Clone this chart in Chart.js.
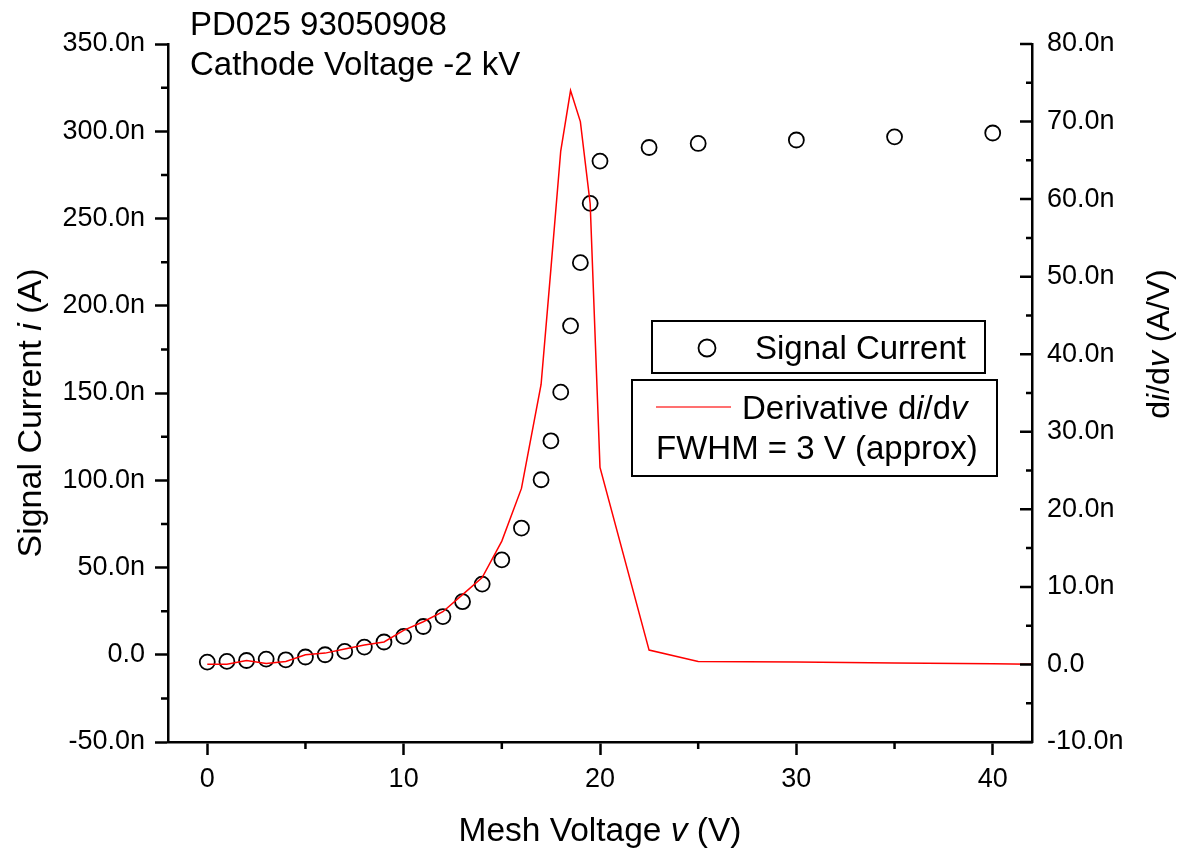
<!DOCTYPE html>
<html>
<head>
<meta charset="utf-8">
<script src="https://cdn.jsdelivr.net/npm/chart.js@4.4.1/dist/chart.umd.min.js"></script>
<style>
  html, body { margin: 0; padding: 0; background: #fff; }
  #wrap { width: 1181px; height: 851px; position: relative; }
</style>
</head>
<body>
<div id="wrap"><canvas id="chart"></canvas></div>
<script>
// mesh voltage (V) of each measurement
var voltage = [0, 1, 2, 3, 4, 5, 6, 7, 8, 9, 10, 11, 12, 13, 14, 15, 16, 17, 17.5, 18, 18.5, 19, 19.5, 20, 22.5, 25, 30, 35, 40];
// signal current i (nA)
var current = [-4.2, -3.8, -3.3, -2.5, -2.9, -1.3, 0, 1.9, 4.4, 7.3, 10.5, 16.2, 21.9, 30.4, 40.5, 54.4, 72.6, 100.3, 122.6, 150.5, 188.5, 224.7, 258.7, 282.9, 290.7, 293, 295, 296.8, 299];
// derivative di/dv (nA/V), runs on past the right edge
var derivVoltage = [0, 1, 2, 3, 4, 5, 6, 7, 8, 9, 10, 11, 12, 13, 14, 15, 16, 17, 17.5, 18, 18.5, 19, 19.5, 20, 22.5, 25, 30, 35, 40, 45];
var derivative = [0.04, 0.04, 0.5, 0.13, 0.39, 1.25, 1.46, 2.0, 2.5, 2.9, 4.4, 5.5, 6.8, 9.0, 11.2, 15.9, 22.7, 36.1, 51, 66.2, 74.0, 70.0, 59.4, 25.4, 1.85, 0.39, 0.3, 0.2, 0.1, -0.05];

var titleLines = ['PD025 93050908', 'Cathode Voltage -2 kV'];
var FONT = "'Liberation Sans', Arial, sans-serif";

function nanoLabel(v) {
    return v === 0 ? '0.0' : v.toFixed(1) + 'n';
}

// draws text made of plain / italic pieces
function richText(ctx, parts, x, y, size, align) {
    var fonts = parts.map(function (p) { return (p[1] ? 'italic ' : '') + size + 'px ' + FONT; });
    var widths = [], total = 0;
    parts.forEach(function (p, i) {
        ctx.font = fonts[i];
        var w = ctx.measureText(p[0]).width;
        widths.push(w); total += w;
    });
    var cx = align === 'center' ? x - total / 2 : x;
    ctx.textAlign = 'left';
    parts.forEach(function (p, i) {
        ctx.font = fonts[i];
        ctx.fillText(p[0], cx, y);
        cx += widths[i];
    });
}

var extras = {
    id: 'extras',
    afterDraw: function (chart) {
        var ctx = chart.ctx, a = chart.chartArea, s = chart.scales;
        ctx.save();
        ctx.strokeStyle = '#000';
        ctx.fillStyle = '#000';
        ctx.lineWidth = 2.5;

        // minor ticks and inward right ticks
        ctx.beginPath();
        var xt = s.x.ticks;
        for (var i = 0; i < xt.length - 1; i++) {
            var px = s.x.getPixelForValue((xt[i].value + xt[i + 1].value) / 2);
            ctx.moveTo(px, a.bottom); ctx.lineTo(px, a.bottom + 7);
        }
        var yt = s.y.ticks;
        for (i = 0; i < yt.length - 1; i++) {
            var py = s.y.getPixelForValue((yt[i].value + yt[i + 1].value) / 2);
            ctx.moveTo(a.left, py); ctx.lineTo(a.left - 7, py);
        }
        var rt = s.y2.ticks;
        for (i = 0; i < rt.length; i++) {
            py = s.y2.getPixelForValue(rt[i].value);
            ctx.moveTo(a.right, py); ctx.lineTo(a.right - 12, py);
            if (i < rt.length - 1) {
                py = s.y2.getPixelForValue((rt[i].value + rt[i + 1].value) / 2);
                ctx.moveTo(a.right, py); ctx.lineTo(a.right - 6, py);
            }
        }
        ctx.stroke();

        // heading inside the plot
        ctx.textBaseline = 'alphabetic';
        ctx.textAlign = 'left';
        ctx.font = '33px ' + FONT;
        ctx.fillText(titleLines[0], 190, 35);
        ctx.fillText(titleLines[1], 190, 75);

        // axis titles
        richText(ctx, [['Mesh Voltage ', false], ['v', true], [' (V)', false]], 600, 841, 33.5, 'center');
        ctx.save();
        ctx.translate(41, 413);
        ctx.rotate(-Math.PI / 2);
        richText(ctx, [['Signal Current ', false], ['i', true], [' (A)', false]], 0, 0, 34, 'center');
        ctx.restore();
        ctx.save();
        ctx.translate(1169, 344);
        ctx.rotate(-Math.PI / 2);
        richText(ctx, [['d', false], ['i', true], ['/d', false], ['v', true], [' (A/V)', false]], 0, 0, 32, 'center');
        ctx.restore();

        // legends
        ctx.lineWidth = 2;
        ctx.strokeRect(652, 321, 333, 52);
        ctx.strokeRect(632, 380, 365, 96);
        ctx.lineWidth = 1.8;
        ctx.beginPath();
        ctx.arc(707, 348, 8.5, 0, Math.PI * 2);
        ctx.stroke();
        ctx.font = '33px ' + FONT;
        ctx.fillText('Signal Current', 755, 359);
        ctx.strokeStyle = '#ff4040';
        ctx.lineWidth = 1.5;
        ctx.beginPath();
        ctx.moveTo(656, 407); ctx.lineTo(731, 407);
        ctx.stroke();
        richText(ctx, [['Derivative d', false], ['i', true], ['/d', false], ['v', true]], 742, 419, 33, 'left');
        ctx.font = '33px ' + FONT;
        ctx.fillText('FWHM = 3 V (approx)', 656, 459);
        ctx.restore();
    }
};

var ctx = document.getElementById('chart').getContext('2d');
var tickFont = { family: FONT, size: 27 };

myChart = new Chart(ctx, {
    type: 'scatter',
    data: {
        datasets: [{
            label: 'Derivative di/dv',
            data: derivVoltage.map(function (v, i) { return { x: v, y: derivative[i] }; }),
            yAxisID: 'y2',
            showLine: true,
            borderColor: '#ff0000',
            borderWidth: 1.5,
            pointRadius: 0,
            tension: 0,
            fill: false
        }, {
            label: 'Signal Current',
            data: voltage.map(function (v, i) { return { x: v, y: current[i] }; }),
            yAxisID: 'y',
            pointRadius: 7.5,
            pointBorderWidth: 1.8,
            pointBorderColor: '#000',
            pointBackgroundColor: 'rgba(0,0,0,0)',
            showLine: false
        }]
    },
    options: {
        responsive: true,
        maintainAspectRatio: false,
        animation: false,
        layout: { padding: { top: 44, left: 0, right: 0, bottom: 0 } },
        plugins: { legend: { display: false }, tooltip: { enabled: false } },
        scales: {
            x: {
                type: 'linear', position: 'bottom',
                min: -2, max: 42,
                ticks: { stepSize: 10, includeBounds: false, color: '#000', font: tickFont, padding: 8 },
                grid: { drawOnChartArea: false, tickLength: 13, tickWidth: 2.5, tickColor: '#000' },
                border: { display: true, color: '#000', width: 2.5 },
                afterFit: function (scale) { scale.height = 109; }
            },
            y: {
                type: 'linear', position: 'left',
                min: -50, max: 350,
                ticks: { stepSize: 50, color: '#000', font: tickFont, padding: 10, callback: nanoLabel },
                grid: { drawOnChartArea: false, tickLength: 13, tickWidth: 2.5, tickColor: '#000' },
                border: { display: true, color: '#000', width: 2.5 },
                afterFit: function (scale) { scale.width = 168; }
            },
            y2: {
                type: 'linear', position: 'right',
                min: -10, max: 80,
                ticks: { stepSize: 10, color: '#000', font: tickFont, padding: 15, callback: nanoLabel },
                grid: { drawOnChartArea: false, drawTicks: false },
                border: { display: true, color: '#000', width: 2.5 },
                afterFit: function (scale) { scale.width = 149; }
            }
        }
    },
    plugins: [extras]
});
</script>
</body>
</html>
